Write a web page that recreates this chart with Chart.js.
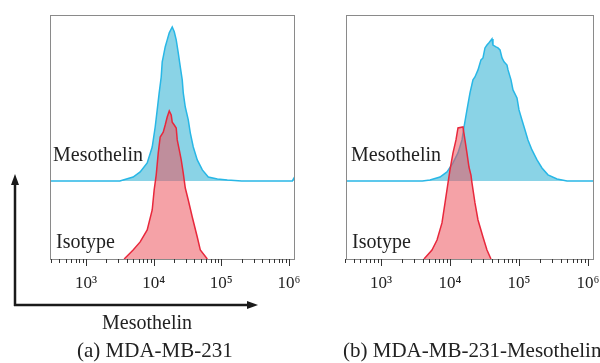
<!DOCTYPE html>
<html>
<head>
<meta charset="utf-8">
<script src="https://cdn.jsdelivr.net/npm/chart.js@4"></script>
<style>
  body { margin: 0; width: 600px; height: 363px; background: #fff; position: relative; overflow: hidden; font-family: "Liberation Serif", serif; color: #222; }
  .panel { position: absolute; top: 0; width: 330px; height: 300px; }
  .lbl { position: absolute; font-size: 20px; line-height: 1; white-space: nowrap; }
  .cap { position: absolute; font-size: 21px; line-height: 1; white-space: nowrap; }
  svg { position: absolute; left: 0; top: 0; }
</style>
</head>
<body>
<div class="panel" style="left:0"><canvas id="chartA"></canvas></div>
<div class="panel" style="left:300px"><canvas id="chartB"></canvas></div>

<svg width="600" height="363">
  <line x1="15" y1="306" x2="15" y2="183" stroke="#1a1a1a" stroke-width="2.5"/>
  <polygon points="15,174 11,185 19,185" fill="#1a1a1a"/>
  <line x1="14" y1="305" x2="248" y2="305" stroke="#1a1a1a" stroke-width="2.5"/>
  <polygon points="258,305 247,301 247,309" fill="#1a1a1a"/>
</svg>

<div class="lbl" style="left:53px;top:144px">Mesothelin</div>
<div class="lbl" style="left:56px;top:231px">Isotype</div>
<div class="lbl" style="left:351px;top:144px">Mesothelin</div>
<div class="lbl" style="left:352px;top:231px">Isotype</div>
<div class="lbl" style="left:102px;top:312px">Mesothelin</div>
<div class="cap" style="left:77px;top:340px">(a) MDA-MB-231</div>
<div class="cap" style="left:343px;top:340px">(b) MDA-MB-231-Mesothelin</div>

<script>
// fluorescence in log10 units, counts in % of plot height
const aMesoExp = [2.467, 3.50, 3.548, 3.696, 3.80, 3.904, 3.978, 4.022, 4.052, 4.081, 4.111, 4.126, 4.141, 4.17, 4.20, 4.23, 4.274, 4.304, 4.333, 4.363, 4.393, 4.422, 4.437, 4.467, 4.511, 4.541, 4.585, 4.644, 4.719, 4.807, 4.941, 5.089, 5.30, 6.05, 6.075, 6.09];
const aMesoCount = [0, 0, 0.4, 1.6, 3.7, 7.4, 13.9, 22.1, 29.1, 36.1, 42.6, 48.8, 50.8, 54.9, 57.8, 60.7, 63.1, 61.1, 57.8, 52.5, 46.7, 41.4, 36.1, 30.3, 25.0, 19.7, 13.9, 8.6, 4.5, 1.6, 0.8, 0.4, 0, 0, 1.2, 2.0];
const aIsoExp = [3.563, 3.696, 3.80, 3.904, 3.978, 4.007, 4.037, 4.067, 4.096, 4.141, 4.17, 4.20, 4.23, 4.259, 4.274, 4.304, 4.333, 4.348, 4.378, 4.407, 4.437, 4.467, 4.511, 4.57, 4.644, 4.689, 4.793];
const aIsoCount = [0, 3.7, 7.0, 11.9, 20.1, 28.3, 34.4, 43.4, 50.0, 52.0, 54.9, 58.2, 60.7, 59.0, 56.1, 54.9, 53.7, 48.8, 44.7, 40.6, 35.2, 29.1, 24.2, 17.2, 9.0, 3.7, 0];

const bMesoExp = [2.493, 3.60, 3.71, 3.855, 3.957, 4.043, 4.116, 4.174, 4.203, 4.246, 4.29, 4.333, 4.362, 4.406, 4.449, 4.478, 4.507, 4.536, 4.565, 4.609, 4.623, 4.667, 4.696, 4.725, 4.754, 4.783, 4.826, 4.841, 4.884, 4.913, 4.971, 5.0, 5.043, 5.087, 5.13, 5.188, 5.261, 5.333, 5.42, 5.551, 5.696, 6.087];
const bMesoCount = [0, 0, 0.4, 1.6, 3.7, 7.4, 11.5, 16.8, 22.1, 29.1, 36.1, 41.4, 42.6, 45.5, 49.6, 50.4, 54.5, 55.7, 56.6, 58.2, 55.7, 54.9, 54.5, 53.7, 50.4, 48.8, 47.5, 45.5, 41.4, 37.3, 34.0, 29.1, 25.0, 20.9, 16.8, 12.7, 8.6, 5.3, 2.5, 0.8, 0, 0];
const bIsoExp = [3.623, 3.739, 3.812, 3.884, 3.928, 3.971, 4.0, 4.043, 4.087, 4.116, 4.188, 4.217, 4.246, 4.275, 4.304, 4.319, 4.362, 4.406, 4.478, 4.536, 4.594];
const bIsoCount = [0, 3.7, 7.8, 14.8, 23.0, 31.1, 36.5, 43.4, 48.8, 53.7, 54.1, 48.8, 43.4, 37.7, 34.4, 31.1, 23.0, 16.0, 9.0, 3.7, 0];

const decades = [2, 3, 4, 5];
const majorLabels = { 1000: '10³', 10000: '10⁴', 100000: '10⁵', 1000000: '10⁶' };
const tickValues = [];
decades.forEach(d => {
    for (let m = (d === 2 ? 3 : 1); m <= 9; m++) tickValues.push(m * Math.pow(10, d));
});
tickValues.push(1e6);

const toPoints = (exps, counts) => exps.map((e, i) => ({ x: Math.pow(10, e), y: counts[i] }));

// plot frame + log tick marks
const frame = {
    id: 'frame',
    afterDraw(chart) {
        const { ctx, chartArea: a } = chart;
        const sx = chart.scales.x;
        ctx.save();
        ctx.strokeStyle = '#8a8a8a';
        ctx.lineWidth = 1;
        ctx.strokeRect(a.left + 0.5, a.top + 0.5, a.right - a.left - 1, a.bottom - a.top);
        ctx.strokeStyle = '#333';
        sx.ticks.forEach(t => {
            const px = Math.round(sx.getPixelForValue(t.value)) + 0.5;
            const len = majorLabels[t.value] ? 7 : 4;
            ctx.beginPath();
            ctx.moveTo(px, a.bottom);
            ctx.lineTo(px, a.bottom + len);
            ctx.stroke();
        });
        ctx.restore();
    }
};

function makeChart(id, minExp, maxExp, meso, iso, padLeft, padRight) {
    return new Chart(document.getElementById(id), {
        type: 'line',
        data: {
            datasets: [{
                label: 'Isotype',
                data: iso,
                yAxisID: 'y',
                borderColor: 'rgb(232,40,60)',
                backgroundColor: 'rgba(237,84,93,0.54)',
                borderWidth: 1.5,
                fill: 'origin',
                pointRadius: 0,
                order: 0,
            }, {
                label: 'Mesothelin',
                data: meso,
                yAxisID: 'y2',
                borderColor: 'rgb(40,183,230)',
                backgroundColor: 'rgb(138,211,230)',
                borderWidth: 1.5,
                fill: { value: 0 },
                pointRadius: 0,
                order: 1,
            }]
        },
        options: {
            responsive: true,
            maintainAspectRatio: false,
            animation: false,
            layout: { padding: { left: padLeft, right: padRight, top: 15, bottom: 0 } },
            plugins: { legend: { display: false }, tooltip: { enabled: false } },
            scales: {
                x: {
                    type: 'logarithmic',
                    min: Math.pow(10, minExp),
                    max: Math.pow(10, maxExp),
                    afterBuildTicks: s => { s.ticks = tickValues.map(v => ({ value: v })); },
                    afterFit: s => { s.height = 41; },
                    grid: { display: false, drawTicks: false },
                    border: { display: false },
                    ticks: {
                        autoSkip: false,
                        maxRotation: 0,
                        padding: 14,
                        color: '#222',
                        font: { family: 'Liberation Serif', size: 17 },
                        callback: v => majorLabels[v] || ''
                    }
                },
                y: { display: false, min: 0, max: 100 },
                y2: { display: false, min: -32, max: 68 }
            }
        },
        plugins: [frame]
    });
}

makeChart('chartA', 2.467, 6.089, toPoints(aMesoExp, aMesoCount), toPoints(aIsoExp, aIsoCount), 50, 35);
makeChart('chartB', 2.493, 6.087, toPoints(bMesoExp, bMesoCount), toPoints(bIsoExp, bIsoCount), 46, 36);
</script>
</body>
</html>
